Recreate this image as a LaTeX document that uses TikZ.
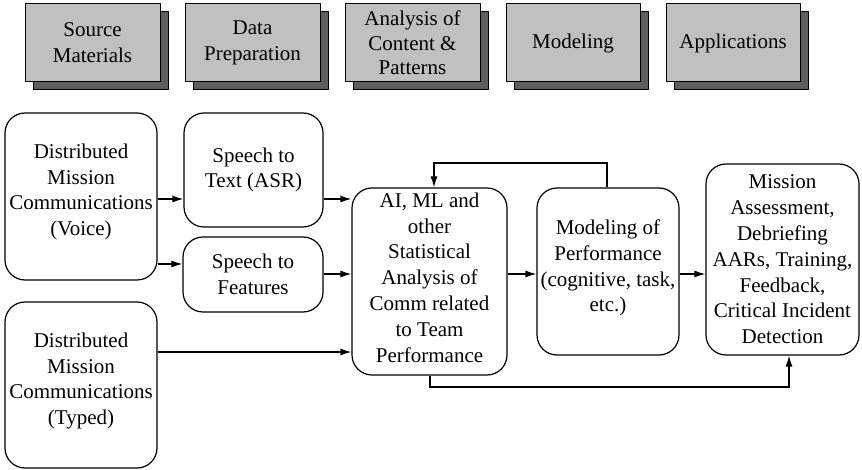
\documentclass[tikz,border=0pt]{standalone}
\usepackage{fontspec}
\setmainfont{Liberation Serif}
\usetikzlibrary{arrows.meta,shadows}
\definecolor{hdrgray}{HTML}{C0C0C0}
\definecolor{shgray}{HTML}{5E5E5E}
\tikzset{
  txt/.style={font=\fontsize{21}{25.8}\selectfont},
  hdr/.style={txt, draw=black, line width=1pt, fill=hdrgray, minimum width=135pt, minimum height=78pt,
    inner sep=0pt, align=center,
    general shadow={shadow xshift=8pt, shadow yshift=-8pt, fill=shgray, draw=black, line width=1pt}},
  rbox/.style={txt, draw=black, line width=1.2pt, rounded corners=20pt, inner sep=0pt, align=center},
  conn/.style={line width=1.2pt, -{Latex[length=11pt,width=7pt]}},
  plain/.style={line width=1.2pt}
}
\begin{document}
\begin{tikzpicture}[x=1pt,y=-1pt]
\useasboundingbox (0,0) rectangle (862,470);
% headers
\node[hdr] (src) at (92.5,43) {Source\\Materials};
\node[hdr] (prep) at (252.5,43) {Data\\Preparation};
\node[hdr, font=\fontsize{21}{24.5}\selectfont] (anal) at (412.5,43) {Analysis of\\Content \&\\Patterns};
\node[hdr, minimum width=134pt] (mdl) at (573,43) {Modeling};
\node[hdr, minimum width=134pt] (apps) at (733,43) {Applications};
% main boxes
\node[rbox, minimum width=152pt, minimum height=167pt] (voice) at (81,196.5) {};
\node at (81,192) [txt, align=center] {Distributed\\Mission\\Communications\\(Voice)};
\node[rbox, minimum width=152pt, minimum height=166pt] (typed) at (81,385) {};
\node at (81,381) [txt, align=center] {Distributed\\Mission\\Communications\\(Typed)};
\node[rbox, minimum width=139pt, minimum height=114pt] (stt) at (253.5,170) {Speech to\\Text (ASR)};
\node[rbox, minimum width=140pt, minimum height=75pt] (stf) at (253,274.5) {Speech to\\Features};
\node[rbox, minimum width=155pt, minimum height=187pt] (ai) at (429.5,281.5) {};
\node at (429.5,277.5) [txt, align=center] {AI, ML and\\other\\Statistical\\Analysis of\\Comm related\\to Team\\Performance};
\node[rbox, minimum width=142pt, minimum height=167pt] (mop) at (608,271.5) {};
\node at (608,268) [txt, align=center] {Modeling of\\Performance\\(cognitive, task,\\etc.)};
\node[rbox, minimum width=153pt, minimum height=191pt] (mis) at (782.5,259.5) {Mission\\Assessment,\\Debriefing\\AARs, Training,\\Feedback,\\Critical Incident\\Detection};
% connectors
\draw[conn] (voice.east |- 0,199) -- (stt.west |- 0,199);
\draw[conn] (voice.east |- 0,264) -- (stf.west |- 0,264);
\draw[conn] (stt.east |- 0,199) -- (ai.west |- 0,199);
\draw[conn] (stf.east |- 0,274) -- (ai.west |- 0,274);
\draw[conn] (typed.east |- 0,352) -- (ai.west |- 0,352);
\draw[conn] (ai.east |- 0,274) -- (mop.west |- 0,274);
\draw[conn] (mop.east |- 0,274) -- (mis.west |- 0,274);
\coordinate (fbA) at (607,163);
\coordinate (fbB) at (434,163);
\draw[conn] (mop.north -| fbA) -- (fbA) -- (fbB) -- (ai.north -| fbB);
\coordinate (btA) at (430,387);
\coordinate (btB) at (789,387);
\draw[conn] (ai.south -| btA) -- (btA) -- (btB) -- (mis.south -| btB);
\end{tikzpicture}
\end{document}
